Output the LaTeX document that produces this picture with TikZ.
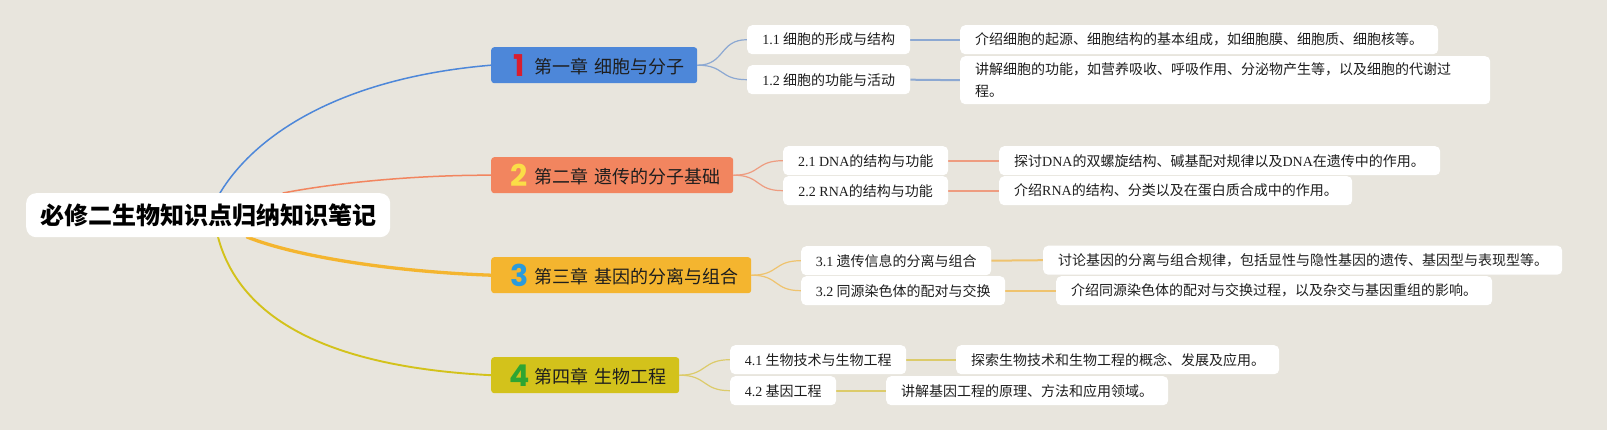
\documentclass[tikz,border=0pt]{standalone}
\usepackage{fontspec}
\setmainfont{Noto Sans CJK SC}
\newfontfamily\lat{Liberation Serif}
\newfontfamily\numf{Poppins}
\usetikzlibrary{backgrounds}
\definecolor{bgc}{HTML}{E8E5DD}
\definecolor{txt}{HTML}{1E1E1E}
\definecolor{c1}{HTML}{4D87D9}
\definecolor{c2}{HTML}{F2855F}
\definecolor{c3}{HTML}{F4B52F}
\definecolor{c4}{HTML}{D3C21B}
\definecolor{n1}{HTML}{D81E2F}
\definecolor{n2}{HTML}{FBDD47}
\definecolor{n3}{HTML}{2B9BDB}
\definecolor{n4}{HTML}{2FA532}
\definecolor{l1}{HTML}{8CA8D2}
\definecolor{l2}{HTML}{EE9C80}
\definecolor{l3}{HTML}{EFC36E}
\definecolor{l4}{HTML}{DCCB6A}
\newcommand{\chnum}[2]{\makebox[20pt][c]{\raisebox{-2.5pt}{\numf\bfseries\fontsize{30}{30}\selectfont\color{#1}#2}}\hspace{5pt}}
\begin{document}
\begin{tikzpicture}[x=1pt,y=-1pt,
  rootbox/.style={anchor=north west, fill=white, rounded corners=10pt, minimum height=44pt, inner sep=0pt, text=black, font=\bfseries\fontsize{24}{26}\selectfont},
  chap/.style={anchor=north west, rounded corners=3pt, minimum height=36pt, inner xsep=18pt, inner ysep=0pt, align=left, text=txt, font=\fontsize{18}{20}\selectfont},
  subbox/.style={anchor=north west, fill=white, rounded corners=5pt, minimum height=29pt, inner sep=0pt, text=txt, font=\fontsize{14}{16}\selectfont},
  detbox/.style={anchor=north west, fill=white, rounded corners=5pt, minimum height=29pt, inner xsep=15pt, inner ysep=0pt, align=left, text=txt, font=\fontsize{14}{22.6}\selectfont},
  mainline/.style={line cap=round},
  subline/.style={line width=1.2pt},
  detline/.style={line width=2pt}
]
\useasboundingbox (0,0) rectangle (1607,430);

% root
\node[rootbox, minimum width=364pt] (root) at (26,193) {必修二生物知识点归纳知识笔记};

% chapters
\node[chap, fill=c1, minimum width=206pt, text width=170pt] (ch1) at (491,47) {\mbox{\chnum{n1}{1}第一章 细胞与分子}};
\node[chap, fill=c2, minimum width=242pt, text width=206pt] (ch2) at (491,157) {\mbox{\chnum{n2}{2}第二章 遗传的分子基础}};
\node[chap, fill=c3, minimum width=260pt, text width=224pt] (ch3) at (491,257) {\mbox{\chnum{n3}{3}第三章 基因的分离与组合}};
\node[chap, fill=c4, minimum width=188pt, text width=152pt] (ch4) at (491,357) {\mbox{\chnum{n4}{4}第四章 生物工程}};

% sub topics
\node[subbox, minimum width=163pt] (s11) at (747,25) {{\lat 1.1} 细胞的形成与结构};
\node[subbox, minimum width=163pt] (s12) at (747,65) {{\lat 1.2} 细胞的功能与活动};
\node[subbox, minimum width=165pt] (s21) at (783,146) {{\lat 2.1 DNA}的结构与功能};
\node[subbox, minimum width=165pt] (s22) at (783,176) {{\lat 2.2 RNA}的结构与功能};
\node[subbox, minimum width=190pt] (s31) at (801,246) {{\lat 3.1} 遗传信息的分离与组合};
\node[subbox, minimum width=204pt] (s32) at (801,276) {{\lat 3.2} 同源染色体的配对与交换};
\node[subbox, minimum width=176pt] (s41) at (730,345) {{\lat 4.1} 生物技术与生物工程};
\node[subbox, minimum width=106pt] (s42) at (730,376) {{\lat 4.2} 基因工程};

% details
\node[detbox, minimum width=478pt, text width=448pt] (d11) at (960,25) {介绍细胞的起源、细胞结构的基本组成，如细胞膜、细胞质、细胞核等。};
\node[detbox, minimum width=530pt, text width=500pt, minimum height=48pt] (d12) at (960,56) {讲解细胞的功能，如营养吸收、呼吸作用、分泌物产生等，以及细胞的代谢过\\程。};
\node[detbox, minimum width=441pt, text width=411pt] (d21) at (999,146) {探讨{\lat DNA}的双螺旋结构、碱基配对规律以及{\lat DNA}在遗传中的作用。};
\node[detbox, minimum width=353pt, text width=323pt] (d22) at (999,176) {介绍{\lat RNA}的结构、分类以及在蛋白质合成中的作用。};
\node[detbox, minimum width=519pt, text width=489pt] (d31) at (1043,245.5) {讨论基因的分离与组合规律，包括显性与隐性基因的遗传、基因型与表现型等。};
\node[detbox, minimum width=436pt, text width=406pt] (d32) at (1056,276) {介绍同源染色体的配对与交换过程，以及杂交与基因重组的影响。};
\node[detbox, minimum width=323pt, text width=293pt] (d41) at (956,345) {探索生物技术和生物工程的概念、发展及应用。};
\node[detbox, minimum width=282pt, text width=252pt] (d42) at (886,376) {讲解基因工程的原理、方法和应用领域。};

\coordinate (r1) at (220,193);
\coordinate (r2) at (283,193);
\coordinate (r3) at (247,237);
\coordinate (r4) at (218,237);

\begin{scope}[on background layer]
\fill[bgc] (0,0) rectangle (1607,430);
% root to chapters
\draw[mainline, c1, line width=1.5pt] (r1) .. controls (255,135) and (340,78) .. (ch1.west);
\draw[mainline, c2, line width=1.5pt] (r2) .. controls (340,182) and (420,175) .. (ch2.west);
\draw[mainline, c3, line width=3.3pt] (r3) .. controls (300,258) and (400,272) .. (ch3.west);
\draw[mainline, c4, line width=1.9pt] (r4) .. controls (240,320) and (330,367) .. (ch4.west);
% chapters to sub topics
\draw[subline, l1] (ch1.east) .. controls +(28,0) and +(-28,0) .. (s11.west);
\draw[subline, l1] (ch1.east) .. controls +(28,0) and +(-28,0) .. (s12.west);
\draw[subline, l2] (ch2.east) .. controls +(28,0) and +(-28,0) .. (s21.west);
\draw[subline, l2] (ch2.east) .. controls +(28,0) and +(-28,0) .. (s22.west);
\draw[subline, l3] (ch3.east) .. controls +(28,0) and +(-28,0) .. (s31.west);
\draw[subline, l3] (ch3.east) .. controls +(28,0) and +(-28,0) .. (s32.west);
\draw[subline, l4] (ch4.east) .. controls +(28,0) and +(-28,0) .. (s41.west);
\draw[subline, l4] (ch4.east) .. controls +(28,0) and +(-28,0) .. (s42.west);
% sub topics to details
\draw[detline, l1] (s11.east) -- (d11.west);
\draw[detline, l1] (s12.east) -- (d12.west);
\draw[detline, l2] (s21.east) -- (d21.west);
\draw[detline, l2] (s22.east) -- (d22.west);
\draw[detline, l3] (s31.east) -- (d31.west);
\draw[detline, l3] (s32.east) -- (d32.west);
\draw[detline, l4] (s41.east) -- (d41.west);
\draw[detline, l4] (s42.east) -- (d42.west);
\end{scope}
\end{tikzpicture}
\end{document}
